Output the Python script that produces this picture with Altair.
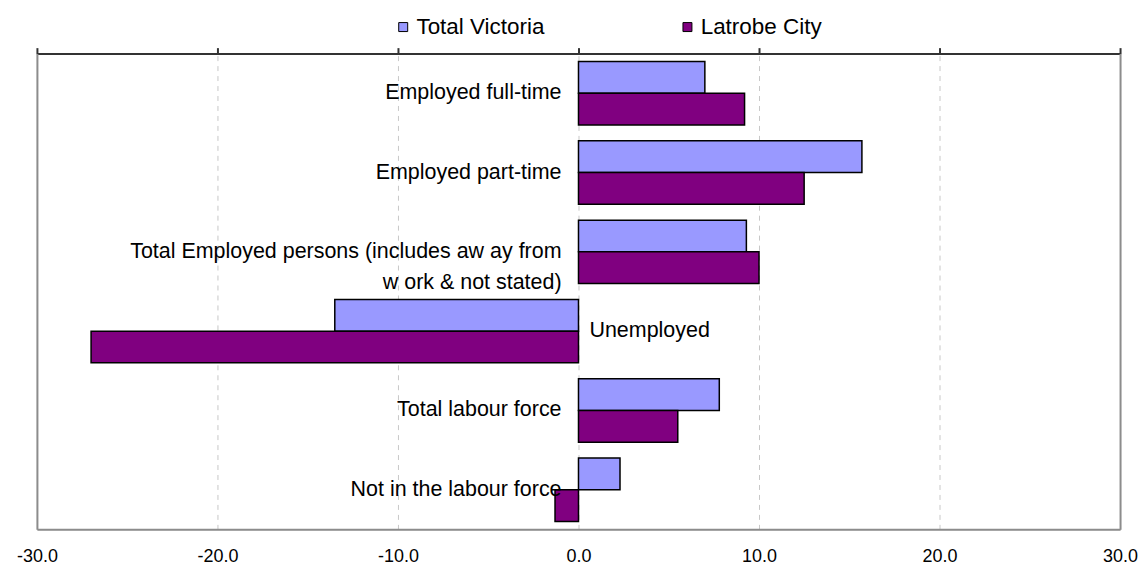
import altair as alt
import pandas as pd

categories = [
    "Employed full-time",
    "Employed part-time",
    "Total Employed persons (includes aw ay from\nw ork & not stated)",
    "Unemployed",
    "Total labour force",
    "Not in the labour force",
]
series = ["Total Victoria", "Latrobe City"]
victoria = [7.0, 15.7, 9.3, -13.5, 7.8, 2.3]
latrobe = [9.2, 12.5, 10.0, -27.0, 5.5, -1.3]
colors = ["#9999FF", "#800080"]
x_ticks = [-30, -20, -10, 0, 10, 20, 30]

rows = []
for c, v, l in zip(categories, victoria, latrobe):
    rows.append({"cat": c, "series": series[0], "value": v})
    rows.append({"cat": c, "series": series[1], "value": l})
df = pd.DataFrame(rows)

lab = pd.DataFrame({
    "cat": categories,
    "side": ["right" if (v < 0 and l < 0) else "left" for v, l in zip(victoria, latrobe)],
})

FONT = "Liberation Sans"
CAT_FS = 21.5

yscale = alt.Scale(domain=categories, paddingInner=0.2, paddingOuter=0.1)
xscale = alt.Scale(domain=[-30, 30], nice=False, zero=False)

bars = alt.Chart(df).mark_bar(stroke="black", strokeWidth=1.5).encode(
    y=alt.Y("cat:N", sort=categories, scale=yscale,
            axis=alt.Axis(orient="left", labels=False, ticks=False, title=None,
                          domainColor="#8c8c8c", domainWidth=2, grid=False)),
    yOffset=alt.YOffset("series:N", sort=series, scale=alt.Scale(domain=series)),
    x=alt.X("value:Q", scale=xscale,
            axis=alt.Axis(orient="bottom", values=x_ticks, title=None,
                          labelExpr="(datum.value < 0 ? '-' : '') + format(abs(datum.value), '.1f')",
                          labelFlush=False, labelOverlap=False,
                          ticks=False, labelPadding=18, labelFontSize=18,
                          labelFont=FONT, labelColor="black",
                          domainColor="#8c8c8c", domainWidth=2,
                          grid=True, gridDash=[5, 5], gridColor="#c8c8c8", gridWidth=1)),
    color=alt.Color("series:N", sort=series,
                    scale=alt.Scale(domain=series, range=colors),
                    legend=alt.Legend(title=None, orient="none", direction="horizontal",
                                      legendX=356, legendY=-38, padding=0,
                                      symbolType="square", symbolSize=81,
                                      symbolStrokeColor="black", symbolStrokeWidth=1,
                                      symbolOpacity=1, labelFontSize=22.5, labelFont=FONT,
                                      labelColor="black", labelOffset=2,
                                      columnPadding=132)),
)

topaxis = alt.Chart(df).mark_bar(opacity=0).encode(
    x=alt.X("value:Q", scale=xscale,
            axis=alt.Axis(orient="top", values=x_ticks, labels=False, title=None,
                          tickSize=6, tickWidth=2, tickColor="#333333",
                          domainColor="#333333", domainWidth=2, grid=False)),
    y=alt.Y("cat:N", sort=categories, scale=yscale,
            axis=alt.Axis(orient="right", labels=False, ticks=False, title=None,
                          domainColor="#8c8c8c", domainWidth=2, grid=False)),
)

left_labels = alt.Chart(lab).transform_filter(alt.datum.side == "left").mark_text(
    align="right", baseline="middle", dx=-17, fontSize=CAT_FS, font=FONT,
    color="black", lineBreak="\n", lineHeight=31,
).encode(
    x=alt.XDatum(0, scale=xscale, axis=None),
    y=alt.Y("cat:N", sort=categories, scale=yscale, axis=None),
    text="cat:N",
)

right_labels = alt.Chart(lab).transform_filter(alt.datum.side == "right").mark_text(
    align="left", baseline="middle", dx=11, fontSize=CAT_FS, font=FONT,
    color="black", lineBreak="\n", lineHeight=31,
).encode(
    x=alt.XDatum(0, scale=xscale, axis=None),
    y=alt.Y("cat:N", sort=categories, scale=yscale, axis=None),
    text="cat:N",
)

chart = alt.layer(bars, topaxis, left_labels, right_labels).resolve_axis(
    x="independent", y="independent"
).properties(
    width=1086, height=477,
    autosize=alt.AutoSizeParams(type="none"),
    padding={"left": 29, "top": 45, "right": 20, "bottom": 36},
).configure_view(stroke=None).configure(background="white")

chart.save("out.html", embed_options={"renderer": "svg", "actions": False})
